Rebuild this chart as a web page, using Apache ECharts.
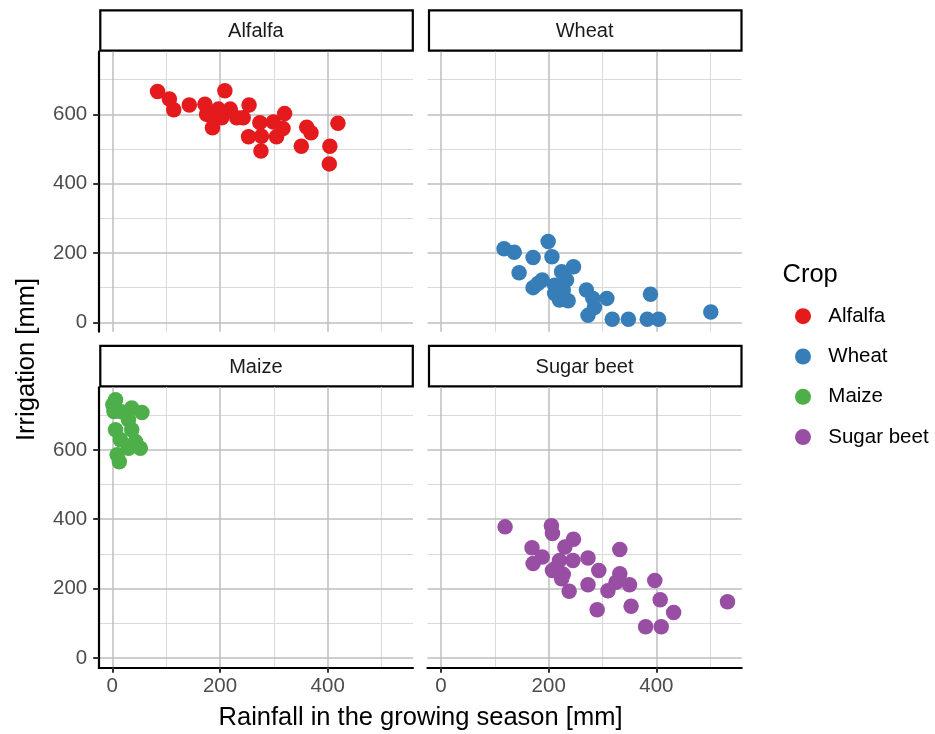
<!DOCTYPE html>
<html><head><meta charset="utf-8">
<script src="https://cdn.jsdelivr.net/npm/echarts@6/dist/echarts.min.js"></script>
<style>html,body{margin:0;padding:0;background:#fff}#c{width:935px;height:734px}</style>
</head><body><div id="c"></div>
<script>
const crops = ['Alfalfa', 'Wheat', 'Maize', 'Sugar beet'];
// [rainfall, irrigation] in mm
const alfalfa = [[84,666],[106,644],[114,613],[143,627],[172,629],[209,668],[175,600],[186,561],[197,615],[188,590],[203,590],[219,615],[231,590],[243,590],[254,627],[274,576],[253,535],[277,537],[276,494],[299,578],[305,535],[320,602],[317,559],[361,563],[369,547],[351,508],[419,574],[404,508],[403,457]];
const wheat = [[117,212],[136,202],[171,187],[199,233],[206,189],[145,143],[171,100],[188,122],[180,112],[211,107],[224,146],[246,160],[211,83],[220,64],[236,62],[227,93],[233,122],[214,93],[270,93],[282,69],[273,20],[285,43],[308,69],[318,9],[348,9],[383,9],[404,9],[389,81],[501,30]];
const maize = [[6,745],[3,711],[15,711],[36,721],[55,708],[6,658],[36,658],[15,629],[43,624],[52,605],[30,605],[9,586],[13,566],[1,730],[30,687]];
const sugarBeet = [[119,378],[205,381],[207,359],[246,342],[230,320],[169,318],[188,291],[171,272],[220,281],[245,281],[273,288],[207,252],[227,241],[224,228],[238,192],[293,252],[332,313],[273,211],[332,243],[310,194],[325,218],[350,211],[290,139],[353,149],[397,223],[407,168],[432,131],[380,90],[409,90],[532,162],[214,260]];
const xTicks = [0, 200, 400];
const xMinor = [100, 300, 500];
const yTicks = [0, 200, 400, 600];
const yMinor = [100, 300, 500, 700];
const xTitle = 'Rainfall in the growing season [mm]';
const yTitle = 'Irrigation [mm]';
const legendTitle = 'Crop';

const seriesData = [alfalfa, wheat, maize, sugarBeet];
const colors = ['#E41A1C', '#377EB8', '#4DAF4A', '#984EA3'];
const FONT = '"Liberation Sans", Arial, Helvetica, sans-serif';
const X_MIN = -25.3, X_MAX = 558.4, Y_MIN = -27.1, Y_MAX = 780.6;
const W = 314.3, H = 280;
const panels = [
  {left: 98.7, top: 51.7}, {left: 427.4, top: 51.7},
  {left: 98.7, top: 387.3}, {left: 427.4, top: 387.3}
];

const grids = panels.map(p => ({left: p.left, top: p.top, width: W, height: H, containLabel: false, outerBoundsMode: 'none'}));

const xAxes = panels.map((p, i) => {
  const bottom = i >= 2;
  return {
    gridIndex: i, type: 'value', min: X_MIN, max: X_MAX, z: 3,
    show: bottom,
    axisLine: {show: bottom, onZero: false, lineStyle: {color: '#000', width: 2.2}},
    axisTick: {show: bottom, customValues: xTicks, length: 5.5, lineStyle: {color: '#333', width: 2}},
    axisLabel: {show: bottom, customValues: xTicks, margin: 9, fontSize: 20.5, color: '#4d4d4d', fontFamily: FONT},
    splitLine: {show: false}
  };
});
const yAxes = panels.map((p, i) => {
  const left = i % 2 === 0;
  return {
    gridIndex: i, type: 'value', min: Y_MIN, max: Y_MAX, z: 3,
    show: left,
    axisLine: {show: left, onZero: false, lineStyle: {color: '#000', width: 2.2}},
    axisTick: {show: left, customValues: yTicks, length: 5.5, lineStyle: {color: '#333', width: 2}},
    axisLabel: {show: left, customValues: yTicks, margin: 11.5, fontSize: 20.5, color: '#4d4d4d', fontFamily: FONT},
    splitLine: {show: false}
  };
});

const minorStyle = {color: '#dadada', width: 1, type: 'solid'};
const majorStyle = {color: '#bebebe', width: 1.5, type: 'solid'};
function gridLines() {
  const d = [];
  xMinor.forEach(v => d.push({xAxis: v, lineStyle: minorStyle}));
  yMinor.forEach(v => d.push({yAxis: v, lineStyle: minorStyle}));
  xTicks.forEach(v => d.push({xAxis: v, lineStyle: majorStyle}));
  yTicks.forEach(v => d.push({yAxis: v, lineStyle: majorStyle}));
  return d;
}

const series = crops.map((name, i) => ({
  name: name, type: 'scatter', xAxisIndex: i, yAxisIndex: i, z: 2,
  data: seriesData[i], symbol: 'circle', symbolSize: 15.5,
  itemStyle: {color: colors[i], opacity: 1},
  emphasis: {disabled: true},
  markLine: {
    silent: true, z: 1, symbol: ['none', 'none'], animation: false,
    label: {show: false}, emphasis: {disabled: true},
    data: gridLines()
  }
}));

const graphics = [];
panels.forEach((p, i) => {
  graphics.push({
    type: 'rect', silent: true,
    shape: {x: p.left + 1.6, y: p.top - 41.4, width: 312.5, height: 40.4},
    style: {fill: '#fff', stroke: '#000', lineWidth: 2.2}
  });
  graphics.push({
    type: 'text', silent: true,
    style: {text: crops[i], x: p.left + W / 2, y: p.top - 20.3, align: 'center', verticalAlign: 'middle',
      fontSize: 20, fontFamily: FONT, fill: '#1a1a1a'}
  });
});
graphics.push({
  type: 'text', silent: true,
  style: {text: xTitle, x: 420.5, y: 718, align: 'center', verticalAlign: 'middle', fontSize: 25.5, fontFamily: FONT, fill: '#000'}
});
graphics.push({
  type: 'text', silent: true, x: 26.5, y: 359.5, rotation: Math.PI / 2,
  style: {text: yTitle, x: 0, y: 0, align: 'center', verticalAlign: 'middle', fontSize: 25.5, fontFamily: FONT, fill: '#000'}
});
graphics.push({
  type: 'text', silent: true,
  style: {text: legendTitle, x: 782.5, y: 275, align: 'left', verticalAlign: 'middle', fontSize: 25.5, fontFamily: FONT, fill: '#000'}
});

const chart = echarts.init(document.getElementById('c'), null, {renderer: 'canvas'});
chart.setOption({
  animation: false,
  backgroundColor: '#fff',
  grid: grids,
  xAxis: xAxes,
  yAxis: yAxes,
  legend: {
    data: crops, orient: 'vertical', left: 795, top: 305.7, padding: 0,
    itemWidth: 40.6, itemHeight: 16, itemGap: 19.3, icon: 'circle', selectedMode: false,
    textStyle: {fontSize: 20.5, fontFamily: FONT, color: '#000', lineHeight: 16}
  },
  series: series,
  graphic: graphics
});
</script></body></html>
